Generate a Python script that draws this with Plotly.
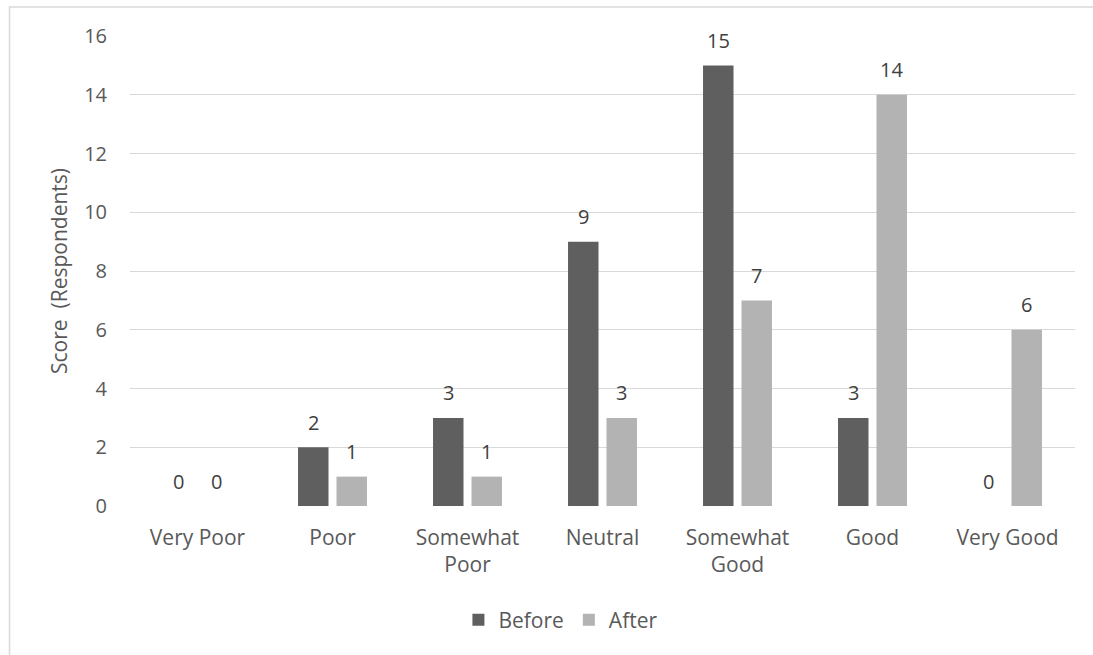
import plotly.graph_objects as go

# Survey ratings, respondent counts before and after
categories = ["Very Poor", "Poor", "Somewhat<br>Poor", "Neutral",
              "Somewhat<br>Good", "Good", "Very Good"]
before = [0, 2, 3, 9, 15, 3, 0]
after = [0, 1, 1, 3, 7, 14, 6]
y_ticks = [0, 2, 4, 6, 8, 10, 12, 14, 16]

FONT = "Open Sans"
TICK_COLOR = "#595959"
LABEL_COLOR = "#404040"

fig = go.Figure()
fig.add_trace(go.Bar(
    name="Before", x=categories, y=before,
    marker=dict(color="#5f5f5f", line=dict(width=0)),
))
fig.add_trace(go.Bar(
    name="After", x=categories, y=after,
    marker=dict(color="#b3b3b3", line=dict(width=0)),
))

# value labels above each bar
annotations = []
for cat, b, a in zip(categories, before, after):
    for val, dx in ((b, -19.3), (a, 19.3)):
        if val == 0 and dx > 0 and cat == "Very Good":
            continue
        annotations.append(dict(
            x=cat, y=val, xref="x", yref="y", text=str(val),
            showarrow=False, xshift=dx, yshift=25,
            font=dict(family=FONT, size=20, color=LABEL_COLOR),
        ))

fig.update_layout(
    width=1093, height=655,
    margin=dict(l=130, r=18, t=36, b=149),
    paper_bgcolor="white", plot_bgcolor="white",
    barmode="group", bargap=0.43, bargroupgap=0.208,
    font=dict(family=FONT, size=21, color=TICK_COLOR),
    showlegend=True,
    legend=dict(orientation="h", x=0.456, xanchor="center",
                y=-0.2426, yanchor="middle",
                font=dict(family=FONT, size=21, color=TICK_COLOR),
                itemwidth=30, tracegroupgap=0),
    annotations=annotations,
    shapes=[dict(type="rect", xref="paper", yref="paper",
                 x0=-0.1275, x1=1.2, y0=-0.6, y1=1.0617,
                 line=dict(color="#d9d9d9", width=1.5), layer="below")],
)
fig.update_xaxes(
    showgrid=False, zeroline=False, showline=False,
    ticks="", ticklabelstandoff=17,
    tickfont=dict(family=FONT, size=21, color=TICK_COLOR),
)
fig.update_yaxes(
    range=[0, 16], tickvals=y_ticks, showgrid=True,
    gridcolor="#d9d9d9", gridwidth=1.3, zeroline=False, showline=False,
    ticks="", ticklabelstandoff=22,
    tickfont=dict(family=FONT, size=20, color=TICK_COLOR),
    title=dict(text="Score\u00a0\u00a0(Respondents)", standoff=10,
               font=dict(family=FONT, size=21, color=TICK_COLOR)),
)

fig.write_html("out.html")
